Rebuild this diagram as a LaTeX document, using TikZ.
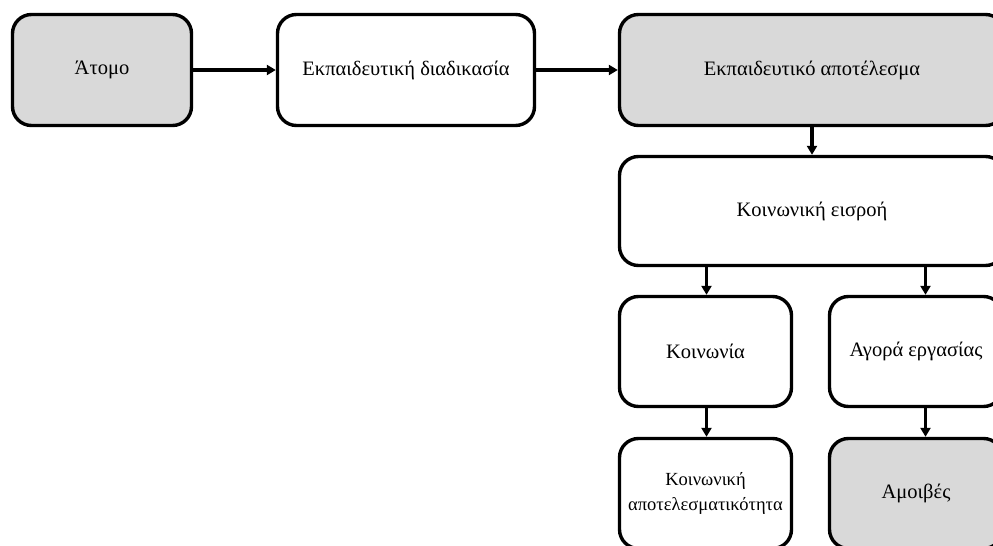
\documentclass[tikz,border=0pt]{standalone}
\usepackage{fontspec}
\setmainfont{Liberation Serif}
\usetikzlibrary{arrows.meta}
\definecolor{boxgray}{HTML}{D9D9D9}
\begin{document}
\begin{tikzpicture}[x=1pt,y=1pt,
  box/.style={draw=black, line width=3.4pt, rounded corners=19pt, align=center, inner sep=2pt, font=\fontsize{20.5}{24}\selectfont},
  grayfill/.style={fill=boxgray},
  whitefill/.style={fill=white},
  conn/.style={line width=3.2pt, -{Triangle[length=9pt,width=10pt]}}]
\useasboundingbox (0,0) rectangle (993,-546);
\clip (0,0) rectangle (993,-546);
\node[box, grayfill, minimum width=179pt, minimum height=111pt] (atomo) at (102,-70) {Άτομο};
\node[box, whitefill, minimum width=257pt, minimum height=111pt] (diad) at (406,-70) {Εκπαιδευτική διαδικασία};
\node[box, grayfill, minimum width=385pt, minimum height=111pt] (apot) at (812,-70) {Εκπαιδευτικό αποτέλεσμα};
\node[box, whitefill, minimum width=385pt, minimum height=109pt] (eisr) at (812,-211) {Κοινωνική εισροή};
\node[box, whitefill, minimum width=172pt, minimum height=110pt] (koin) at (705.5,-351.5) {Κοινωνία};
\node[box, whitefill, minimum width=173pt, minimum height=110pt] (agora) at (916,-351.5) {Αγορά εργασίας};
\node[box, whitefill, minimum width=172pt, minimum height=110pt, font=\fontsize{18.5}{25}\selectfont] (kapot) at (705.5,-493.5) {Κοινωνική\\αποτελεσματικότητα};
\node[box, grayfill, minimum width=173pt, minimum height=110pt] (amoib) at (916,-493.5) {Αμοιβές};
\coordinate (xr) at (925.5,0);
\coordinate (xl) at (706.5,0);
\draw[conn] (atomo) -- (diad);
\draw[conn] (diad) -- (apot);
\draw[conn] (apot) -- (eisr);
\draw[conn] (eisr.south -| xl) -- (koin.north -| xl);
\draw[conn] (eisr.south -| xr) -- (agora.north -| xr);
\draw[conn] (koin.south -| xl) -- (kapot.north -| xl);
\draw[conn] (agora.south -| xr) -- (amoib.north -| xr);
\end{tikzpicture}
\end{document}
